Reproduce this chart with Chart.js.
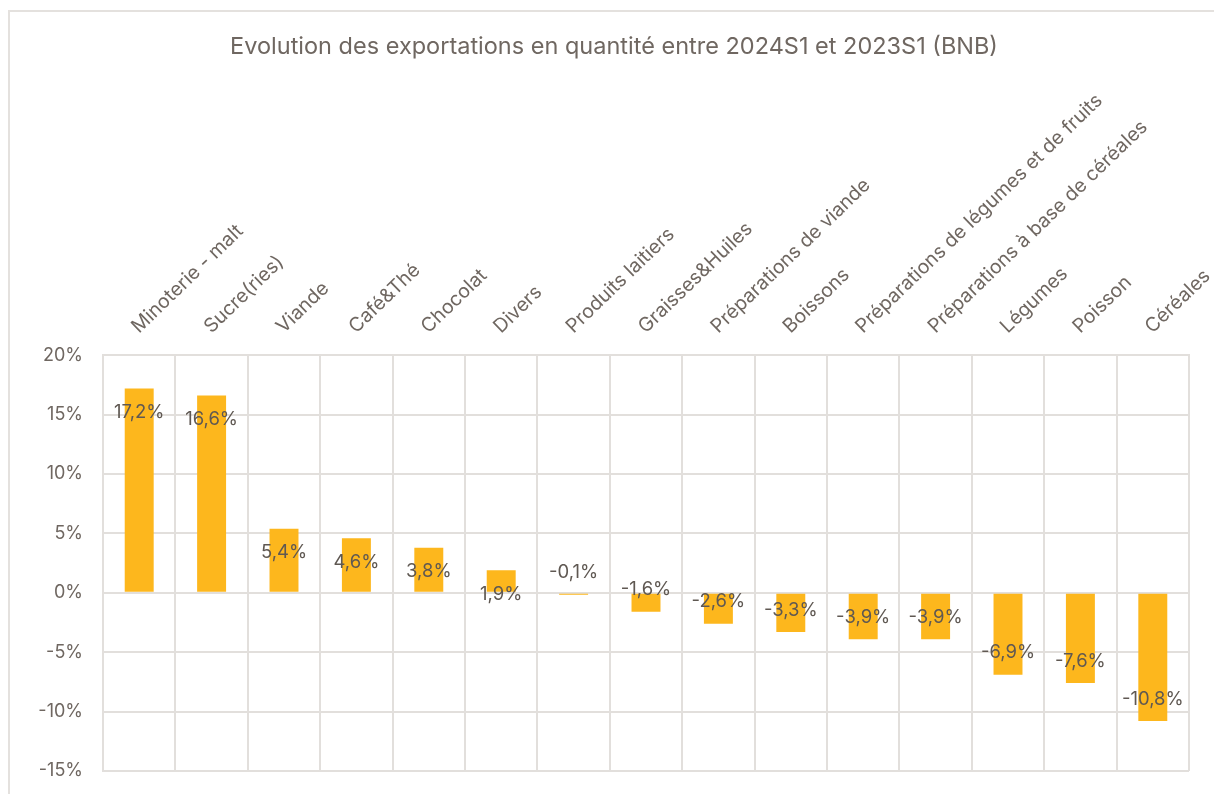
<!DOCTYPE html>
<html>
<head>
<meta charset="utf-8">
<script src="https://cdn.jsdelivr.net/npm/chart.js@4"></script>
<style>
  html, body { margin: 0; padding: 0; background: #fff; overflow: hidden; }
  #frame { position: absolute; left: 8px; top: 10px; width: 1300px; height: 900px; border: 2px solid #e4e1de; box-sizing: border-box; }
  #wrap { position: absolute; left: 0; top: 0; width: 1214px; height: 794px; }
</style>
</head>
<body>
<div id="frame"></div>
<div id="wrap"><canvas id="exportChart"></canvas></div>
<script>
// catégories (axe x, en haut)
const categories = [
  'Minoterie - malt', 'Sucre(ries)', 'Viande', 'Café&Thé', 'Chocolat', 'Divers',
  'Produits laitiers', 'Graisses&Huiles', 'Préparations de viande', 'Boissons',
  'Préparations de légumes et de fruits', 'Préparations à base de céréales',
  'Légumes', 'Poisson', 'Céréales'
];
// évolution en % 2024S1 vs 2023S1
const evolution = [17.2, 16.6, 5.4, 4.6, 3.8, 1.9, -0.1, -1.6, -2.6, -3.3, -3.9, -3.9, -6.9, -7.6, -10.8];
// graduations de l'axe y
const yTicks = [-15, -10, -5, 0, 5, 10, 15, 20];

const fontFamily = 'Inter, "Noto Sans", sans-serif';
const textColor = '#6f6761';
const gridColor = '#e2dfdc';

// étiquettes de valeurs (à l'intérieur de l'extrémité des barres)
const valueLabels = {
  id: 'valueLabels',
  afterDatasetsDraw(chart) {
    const ctx = chart.ctx;
    const meta = chart.getDatasetMeta(0);
    ctx.save();
    ctx.font = '18.5px ' + fontFamily;
    ctx.fillStyle = '#5f5852';
    ctx.textAlign = 'center';
    ctx.textBaseline = 'middle';
    meta.data.forEach((bar, i) => {
      const v = evolution[i];
      const y = v >= 0 ? bar.y + 24 : bar.y - 22;
      ctx.fillText(v.toFixed(1).replace('.', ',') + '%', bar.x, y);
    });
    ctx.restore();
  }
};

const ctx = document.getElementById('exportChart');
new Chart(ctx, {
  type: 'bar',
  data: {
    labels: categories,
    datasets: [{
      label: 'Evolution',
      data: evolution,
      backgroundColor: '#fdb71d',
      borderWidth: 0,
      minBarLength: 2,
      categoryPercentage: 1,
      barPercentage: 0.4
    }]
  },
  options: {
    responsive: true,
    maintainAspectRatio: false,
    animation: false,
    layout: { padding: { left: 14, right: 0, top: 0, bottom: 23 } },
    plugins: {
      legend: { display: false },
      tooltip: { enabled: false },
      title: {
        display: true,
        text: 'Evolution des exportations en quantité entre 2024S1 et 2023S1 (BNB)',
        color: textColor,
        font: { family: fontFamily, size: 23.5, weight: 'normal' },
        padding: { top: 33, bottom: 0 }
      }
    },
    scales: {
      x: {
        position: 'top',
        offset: true,
        grid: { offset: true, color: gridColor, lineWidth: 2, drawTicks: false },
        border: { color: gridColor, width: 2 },
        ticks: {
          color: textColor,
          font: { family: fontFamily, size: 19.5 },
          minRotation: 44,
          maxRotation: 44,
          padding: 17,
          labelOffset: 12,
          autoSkip: false
        },
        afterFit(scale) {
          scale.height = 355 - 61;
          scale.paddingLeft = 0;
          scale.paddingRight = 25;
        }
      },
      y: {
        min: -15,
        max: 20,
        afterBuildTicks(scale) { scale.ticks = yTicks.map(v => ({ value: v })); },
        grid: { color: gridColor, lineWidth: 2, drawTicks: false },
        border: { color: gridColor, width: 2 },
        ticks: {
          color: textColor,
          font: { family: fontFamily, size: 18 },
          padding: 20,
          callback: v => v + '%'
        },
        afterFit(scale) {
          scale.width = 103 - 14;
          scale.paddingTop = 0;
          scale.paddingBottom = 0;
        }
      }
    }
  },
  plugins: [valueLabels]
});
</script>
</body>
</html>
